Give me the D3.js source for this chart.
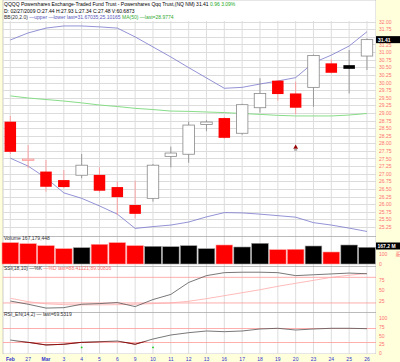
<!DOCTYPE html>
<html>
<head>
<meta charset="utf-8">
<script src="https://cdn.jsdelivr.net/npm/d3@7"></script>
<style>
  body { margin: 0; background: #ffffdc; }
  svg { display: block; }
  text { font-family: "Liberation Sans", Arial, sans-serif; }
</style>
</head>
<body>
<script>
// categories (trading days)
let days = ['Feb','27','Mar','3','4','5','6','9','10','11','12','13','16','17','18','19','20','23','24','25','26'];

// price series
let open  = [28.71,27.44,27.07,26.79,26.95,26.96,26.56,25.97,26.19,27.57,27.64,28.62,28.83,28.33,29.17,30.06,29.64,29.84,30.63,30.57,30.87];
let high  = [28.90,27.94,27.45,27.12,27.65,27.21,26.74,26.77,27.32,27.89,28.71,28.76,28.86,29.30,30.14,30.08,30.03,30.92,30.76,31.07,31.45];
let low   = [27.65,27.19,26.41,26.52,26.85,26.38,25.64,25.53,26.08,27.21,27.36,28.40,28.15,28.28,29.01,29.40,28.96,29.20,30.30,29.64,30.41];
let close = [27.72,27.48,26.57,26.56,27.28,26.44,26.23,25.68,27.28,27.68,28.60,28.70,28.18,29.27,29.64,29.62,29.17,30.89,30.32,30.45,31.41];

// overlays
let bbUpper = [31.40,31.63,31.79,31.86,31.86,31.83,31.79,31.50,31.17,30.84,30.49,30.15,29.81,29.84,29.95,30.05,30.16,30.65,30.90,31.20,31.67];
let bbLower = [27.51,27.25,26.86,26.37,26.19,25.94,25.67,25.20,25.26,25.31,25.41,25.58,25.72,25.71,25.67,25.62,25.57,25.39,25.31,25.21,25.10];
let ma50    = [29.56,29.49,29.44,29.39,29.33,29.26,29.21,29.15,29.11,29.06,29.05,29.03,29.01,28.98,28.95,28.92,28.90,28.90,28.90,28.93,28.98];

// volume, millions
let volume = [213,203,183,153,163,197,213,183,177,173,183,153,190,170,207,143,147,180,120,190,167];

// stochastic
let stochK = [24.5,17,8,9,17,18.5,21,11.5,28,40,68,84,91,92,92,91,84,86,88,90,88.4];
let stochD = [31,23,18,16,15.5,15.5,16,17,18.5,20,24,30,37,44,51,59,66,73,80,85,89];

// rsi
let rsi = [37,30.5,23,25,30.5,32.3,34.3,25,40,51.4,58,62.9,60.9,62.9,68.6,70.6,65.7,68.6,70.6,70.6,69.5];
let rsiSignals = ['4','10'];

// price ticks (31.50 sits under the last-price box)
let priceTicks = d3.range(25.25, 32.01, 0.25);
let priceLabels = priceTicks.filter(d => Math.abs(d - 31.5) > 0.01);

let width = 400, height = 362;
let left = 3, right = 376;

let svg = d3.select('body').append('svg')
  .attr('width', width)
  .attr('height', height)

// panels
let main = { top: 21, bottom: 236 },
    vol  = { top: 236, bottom: 266 },
    sto  = { top: 266, bottom: 312 },
    rsp  = { top: 312, bottom: 354 };

svg.append('rect').attr('x', left).attr('y', 0).attr('width', right - left).attr('height', rsp.bottom)
  .attr('fill', 'white').attr('stroke', '#aaa').attr('stroke-width', 0.6)

let x = d3.scaleBand().domain(days).range([1.4, 375.9]).padding(0)
let cx = d => x(d) + x.bandwidth() / 2

let y = d3.scaleLinear().domain([25, 32]).range([234.5, 21.7])
let yv = d3.scaleLinear().domain([0, 100]).range([264, 254])
let ys = d3.scaleLinear().domain([0, 100]).range([311.5, 268.8])
let yr = d3.scaleLinear().domain([0, 100]).range([353, 318])

// vertical grid
svg.append('g').selectAll('line').data(days).join('line')
  .attr('x1', cx).attr('x2', cx)
  .attr('y1', main.top).attr('y2', rsp.bottom)
  .attr('stroke', '#d4d4d4').attr('stroke-width', 0.8)

// horizontal grid main
svg.append('g').selectAll('line').data(priceTicks).join('line')
  .attr('x1', left).attr('x2', right)
  .attr('y1', d => Math.round(y(d)) + 0.5).attr('y2', d => Math.round(y(d)) + 0.5)
  .attr('stroke', '#dcdcdc').attr('stroke-width', 1)

// panel separators
;[main.bottom, vol.bottom, sto.bottom].forEach(b => {
  svg.append('line').attr('x1', left).attr('x2', right).attr('y1', b + 0.5).attr('y2', b + 0.5)
    .attr('stroke', '#aaa').attr('stroke-width', 0.8)
})

// right axis strip
svg.append('rect').attr('x', right).attr('y', 0).attr('width', width - right).attr('height', height)
  .attr('fill', '#ffffdc')
svg.append('rect').attr('x', 0).attr('y', rsp.bottom).attr('width', width).attr('height', height - rsp.bottom)
  .attr('fill', '#ffffdc')

let axisStyle = g => {
  g.select('.domain').remove()
  g.selectAll('.tick line').remove()
  g.selectAll('text').attr('fill', '#ff7070').attr('font-size', 5).attr('x', 3)
}

svg.append('g').attr('transform', `translate(${right},0)`)
  .call(d3.axisRight(y).tickValues(priceLabels).tickFormat(d3.format('.2f')))
  .call(axisStyle)

// overlays
let line = (arr, sc) => d3.line().x((d, i) => cx(days[i])).y(d => sc(d))(arr)

svg.append('path').attr('d', line(ma50, y)).attr('fill', 'none').attr('stroke', '#88dd88').attr('stroke-width', 1)
svg.append('path').attr('d', line(bbUpper, y)).attr('fill', 'none').attr('stroke', '#7777cc').attr('stroke-width', 0.8)
svg.append('path').attr('d', line(bbLower, y)).attr('fill', 'none').attr('stroke', '#7777cc').attr('stroke-width', 0.8)

// candles
let candles = days.map((d, i) => ({
  day: d, o: open[i], h: high[i], l: low[i], c: close[i],
  down: i === 0 ? true : close[i] < close[i - 1],
  filled: close[i] < open[i]
}))
let bw = 11.5
let cg = svg.append('g').selectAll('g').data(candles).join('g')
cg.append('line')
  .attr('x1', d => cx(d.day)).attr('x2', d => cx(d.day))
  .attr('y1', d => y(d.h)).attr('y2', d => y(d.l))
  .attr('stroke', d => d.down ? '#ff9090' : '#888').attr('stroke-width', 0.8)
cg.append('rect')
  .attr('x', d => cx(d.day) - bw / 2)
  .attr('y', d => y(Math.max(d.o, d.c)))
  .attr('width', bw)
  .attr('height', d => Math.max(1, Math.abs(y(d.o) - y(d.c))))
  .attr('fill', d => d.filled ? (d.down ? '#ff0000' : '#000') : '#fff')
  .attr('stroke', d => d.filled ? 'none' : (d.down ? '#ff9090' : '#888'))
  .attr('stroke-width', 0.8)

// event marker on the 20th
let mk = cx('20')
svg.append('path').attr('d', d3.symbol(d3.symbolTriangle, 10)())
  .attr('transform', `translate(${mk},${y(27.87)})`).attr('fill', '#990000')
svg.append('rect').attr('x', mk - 1.5).attr('y', y(27.87) + 1.5).attr('width', 3).attr('height', 2).attr('fill', '#aaa')

// current price box
svg.append('rect').attr('x', right).attr('y', y(31.41) - 3.5).attr('width', 24).attr('height', 7).attr('fill', '#000')
svg.append('text').attr('x', right + 2).attr('y', y(31.41) + 2).text('31.41')
  .attr('fill', '#fff').attr('font-size', 5).attr('font-weight', 'bold')

// volume
svg.append('g').selectAll('rect').data(days).join('rect')
  .attr('x', d => x(d) + 0.6)
  .attr('y', (d, i) => yv(volume[i]))
  .attr('width', x.bandwidth() - 1.2)
  .attr('height', (d, i) => yv(0) - yv(volume[i]))
  .attr('fill', (d, i) => candles[i].down ? '#ff0000' : '#000')
  .attr('stroke', (d, i) => candles[i].down ? '#ff9999' : '#999')
  .attr('stroke-width', 0.6)

svg.append('g').attr('transform', `translate(${right},0)`)
  .call(d3.axisRight(yv).tickValues([0, 100]))
  .call(axisStyle)
svg.append('text').attr('transform', `translate(396,251) rotate(90)`).text('Mil')
  .attr('fill', '#ff7070').attr('font-size', 5)
svg.append('rect').attr('x', right).attr('y', 242.5).attr('width', 24).attr('height', 7).attr('fill', '#000')
svg.append('text').attr('x', right + 1.5).attr('y', 248).text('167.2 M')
  .attr('fill', '#fff').attr('font-size', 5).attr('font-weight', 'bold')

// stochastic
;[20, 80].forEach(v => {
  svg.append('line').attr('x1', left).attr('x2', right).attr('y1', ys(v)).attr('y2', ys(v))
    .attr('stroke', '#ff9999').attr('stroke-width', 0.8)
})
svg.append('path').attr('d', line(stochD, ys)).attr('fill', 'none').attr('stroke', '#ffaaaa').attr('stroke-width', 0.8)
svg.append('path').attr('d', line(stochK, ys)).attr('fill', 'none').attr('stroke', '#555').attr('stroke-width', 0.8)
svg.append('g').attr('transform', `translate(${right},0)`)
  .call(d3.axisRight(ys).tickValues([25, 50, 75]))
  .call(axisStyle)

// rsi
;[30, 70].forEach(v => {
  svg.append('line').attr('x1', left).attr('x2', right).attr('y1', yr(v)).attr('y2', yr(v))
    .attr('stroke', '#ff9999').attr('stroke-width', 0.8)
})
svg.append('clipPath').attr('id', 'lowrsi').append('rect')
  .attr('x', left).attr('y', yr(33)).attr('width', right - left).attr('height', yr(0) - yr(33))
svg.append('path').attr('d', line(rsi, yr)).attr('fill', 'none').attr('stroke', '#555').attr('stroke-width', 0.8)
svg.append('path').attr('d', line(rsi, yr)).attr('fill', 'none').attr('stroke', '#990000').attr('stroke-width', 0.9)
  .attr('clip-path', 'url(#lowrsi)')
svg.append('g').selectAll('circle').data(rsiSignals).join('circle')
  .attr('cx', cx).attr('cy', yr(16)).attr('r', 0.9).attr('fill', '#22cc22')
svg.append('g').attr('transform', `translate(${right},0)`)
  .call(d3.axisRight(yr).tickValues([0, 25, 50, 75, 100]))
  .call(axisStyle)

// x axis labels
svg.append('g').attr('transform', `translate(0,${rsp.bottom})`)
  .call(d3.axisBottom(x).tickSize(0).tickPadding(3))
  .call(g => g.select('.domain').remove())
  .call(g => g.selectAll('text').attr('fill', '#3333cc').attr('font-size', 5)
    .attr('font-weight', d => (d === 'Feb' || d === 'Mar') ? 'bold' : 'normal'))

// header texts
let hdr = svg.append('text').attr('x', 4).attr('y', 6).attr('font-size', 5)
hdr.append('tspan').text('QQQQ Powershares Exchange-Traded Fund Trust - Powershares Qqq Trust,(NQ NM) 31.41 ').attr('fill', '#000')
hdr.append('tspan').text('0.96  3.09%').attr('fill', '#22aa22')

svg.append('text').attr('x', 4).attr('y', 12.5).attr('font-size', 5).attr('fill', '#000')
  .text('D: 02/27/2009 O:27.44 H:27.93 L:27.34 C:27.48 V:60.6873')

let bb = svg.append('text').attr('x', 4).attr('y', 19).attr('font-size', 5)
bb.append('tspan').text('BB(20,2.0) ').attr('fill', '#333')
bb.append('tspan').text('\u2014upper \u2014lower last=31.67035;25.10165 ').attr('fill', '#5555bb')
bb.append('tspan').text('MA(50) \u2014last=28.9774').attr('fill', '#33aa33')

svg.append('text').attr('x', 4).attr('y', 240).attr('font-size', 5).attr('fill', '#333').text('Volume 167,179,448')

let st = svg.append('text').attr('x', 4).attr('y', 270).attr('font-size', 5)
st.append('tspan').text('SSI(18,10) \u2014%K ').attr('fill', '#333')
st.append('tspan').text('\u2014%D last=88.41121;89.00816').attr('fill', '#ff7070')

svg.append('text').attr('x', 4).attr('y', 315.5).attr('font-size', 5).attr('fill', '#333')
  .text('RSI_EN(14,2) \u2014 last=69.5319')
</script>
</body>
</html>
